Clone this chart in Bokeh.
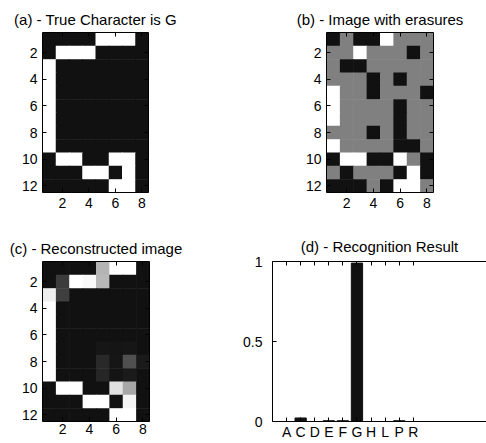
from bokeh.plotting import figure
from bokeh.models import (LinearColorMapper, FixedTicker, LinearAxis, Range1d,
                          ColumnDataSource, CustomLabelingPolicy)
from bokeh.layouts import column, row
from bokeh.embed import file_html
from bokeh.resources import INLINE
from bokeh.transform import transform

# ---------------- data ----------------
# (a) true character "G": 1 = white pixel, 0 = black pixel
TRUE_G = [
    [0, 0, 0, 0, 1, 1, 1, 0],
    [0, 1, 1, 1, 0, 0, 0, 0],
    [1, 0, 0, 0, 0, 0, 0, 0],
    [1, 0, 0, 0, 0, 0, 0, 0],
    [1, 0, 0, 0, 0, 0, 0, 0],
    [1, 0, 0, 0, 0, 0, 0, 0],
    [1, 0, 0, 0, 0, 0, 0, 0],
    [1, 0, 0, 0, 0, 0, 0, 0],
    [1, 0, 0, 0, 0, 0, 0, 0],
    [0, 1, 1, 0, 0, 1, 1, 0],
    [0, 0, 0, 1, 1, 0, 1, 0],
    [0, 0, 0, 0, 0, 1, 1, 0],
]

# (b) image with erasures: -1 black, 0 erased (gray), 1 white
ERASED = [
    [-1, 0, -1, -1, 1, 0, 0, 0],
    [0, 0, 1, 0, 0, 0, -1, 0],
    [0, -1, -1, 0, 0, 0, 0, 0],
    [0, 0, 0, -1, 0, -1, 0, 0],
    [1, 0, 0, -1, 0, 0, 0, -1],
    [1, 0, 0, 0, 0, -1, 0, 0],
    [1, 0, 0, 0, 0, -1, 0, 0],
    [0, 0, 0, -1, 0, -1, 0, 0],
    [1, 0, 0, 0, 0, -1, -1, 0],
    [-1, 1, 1, -1, -1, 1, 0, -1],
    [0, -1, 0, 0, 0, -1, 1, -1],
    [-1, -1, -1, 0, -1, 1, 1, 0],
]

# (c) reconstructed image, values in [-1, 1]
RECON = [
    [-1, -1, -1, -1, 0.41, 1, 1, -1],
    [-1, -0.61, 1, 0.95, 0.44, -1, -1, -1],
    [0.87, -0.58, -1, -1, -1, -1, -1, -1],
    [1, -1, -1, -1, -1, -1, -1, -1],
    [1, -1, -1, -1, -1, -1, -1, -1],
    [1, -1, -1, -1, -1, -1, -1, -1],
    [1, -1, -1, -1, -0.95, -0.96, -0.95, -1],
    [1, -1, -1, -1, -0.78, -0.95, -0.43, -0.92],
    [1, -1, -1, -1, -0.81, -0.97, -0.92, -1],
    [-1, 1, 1, -1, -1, 0.76, 0.31, -1],
    [-1, -1, -1, 1, 1, -1, 0.91, -1],
    [-1, -1, -1, -1, -1, 1, 1, -1],
]

# (d) recognition result
LETTERS = ["A", "C", "D", "E", "F", "G", "H", "L", "P", "R"]
SCORES = [0.0, 0.022, 0.0, 0.005, 0.005, 0.99, 0.0, 0.0, 0.005, 0.0]

IMG_XTICKS = [2, 4, 6, 8]
IMG_YTICKS = [2, 4, 6, 8, 10, 12]
RES_YTICKS = [0, 0.5, 1]

# ---------------- style ----------------
FONT = "Liberation Sans"
TICK_SIZE = "14px"
TITLE_SIZE = "15px"


def _gray(t):
    if t < 0.5:
        g = 17 + (128 - 17) * (t * 2)
    else:
        g = 128 + (255 - 128) * (t * 2 - 1)
    g = int(round(g))
    return "#%02x%02x%02x" % (g, g, g)


GRAY = [_gray(i / 255) for i in range(256)]
mapper = LinearColorMapper(palette=GRAY, low=-1, high=1)


def style_axis(ax, ticks, show_labels=True, standoff=5, overrides=None):
    ax.ticker = FixedTicker(ticks=ticks)
    ax.axis_line_color = "black"
    ax.axis_line_width = 1
    ax.major_tick_in = 4
    ax.major_tick_out = 0
    ax.major_tick_line_color = "black"
    ax.minor_tick_line_color = None
    ax.major_label_text_font = FONT
    ax.major_label_text_color = "black"
    if show_labels:
        ax.major_label_text_font_size = TICK_SIZE
        ax.major_label_standoff = standoff
    else:
        # mirrored box ticks only: draw no labels at all
        ax.major_label_policy = CustomLabelingPolicy(code="return []")
        ax.major_label_text_font_size = "0px"
        ax.major_label_standoff = 0
    if overrides:
        ax.major_label_overrides = overrides


def style_title(p, text, offset, standoff):
    p.title.text = text
    p.title.text_font = FONT
    p.title.text_font_size = TITLE_SIZE
    p.title.text_font_style = "normal"
    p.title.text_color = "black"
    p.title.align = "center"
    p.title.offset = offset
    p.title.standoff = standoff


def image_panel(text, grid, width, height, borders, title_offset, title_standoff, xstand):
    left, right, top, bottom = borders
    p = figure(width=width, height=height,
               x_range=Range1d(0.5, 8.5), y_range=Range1d(12.5, 0.5),
               output_backend="svg", toolbar_location=None, tools="",
               min_border_left=left, min_border_right=right,
               min_border_top=top, min_border_bottom=bottom,
               background_fill_color="white", border_fill_color="white")
    p.outline_line_color = None
    p.grid.visible = False
    xs, ys, vs = [], [], []
    for r, rowvals in enumerate(grid):
        for c, v in enumerate(rowvals):
            xs.append(c + 1)
            ys.append(r + 1)
            vs.append(v)
    src = ColumnDataSource(dict(x=xs, y=ys, v=vs))
    p.rect(x="x", y="y", width=1, height=1, source=src,
           fill_color=transform("v", mapper), line_color=None, dilate=True)
    style_axis(p.xaxis[0], IMG_XTICKS, standoff=xstand)
    style_axis(p.yaxis[0], IMG_YTICKS, standoff=5)
    top_ax = LinearAxis()
    style_axis(top_ax, IMG_XTICKS, show_labels=False)
    p.add_layout(top_ax, "above")
    right_ax = LinearAxis()
    style_axis(right_ax, IMG_YTICKS, show_labels=False)
    p.add_layout(right_ax, "right")
    style_title(p, text, title_offset, title_standoff)
    return p


truth_vals = [[1 if v else -1 for v in r] for r in TRUE_G]

# page grid: 486 x 443, split at x=240 and y=225
pa = image_panel("(a) - True Character is G", truth_vals, 240, 225,
                 (42, 92, 32, 33), -1, 9, 5)
pb = image_panel("(b) - Image with erasures", ERASED, 246, 225,
                 (86, 53, 32, 33), -2, 9, 5)
pc = image_panel("(c) - Reconstructed image", RECON, 240, 218,
                 (42, 91, 36, 22), -2, 9, 2)

# (d) bar chart
xpos = list(range(1, len(LETTERS) + 1))
pd_ = figure(width=246, height=218,
             x_range=Range1d(0, 15.2), y_range=Range1d(0, 1),
             output_backend="svg", toolbar_location=None, tools="",
             min_border_left=32, min_border_right=0,
             min_border_top=36, min_border_bottom=22,
             background_fill_color="white", border_fill_color="white")
pd_.outline_line_color = None
pd_.grid.visible = False
bsrc = ColumnDataSource(dict(x=xpos, top=SCORES, letter=LETTERS))
pd_.vbar(x="x", top="top", width=0.8, source=bsrc,
         fill_color="#111111", line_color="#111111")
style_axis(pd_.xaxis[0], xpos, standoff=2,
           overrides={i: l for i, l in zip(xpos, LETTERS)})
style_axis(pd_.yaxis[0], RES_YTICKS, standoff=10,
           overrides={0: "0", 0.5: "0.5", 1: "1"})
top_d = LinearAxis()
style_axis(top_d, xpos, show_labels=False)
pd_.add_layout(top_d, "above")
style_title(pd_, "(d) - Recognition Result", 0, 13)

layout = column(row(pa, pb), row(pc, pd_))

with open("out.html", "w") as f:
    f.write(file_html(layout, INLINE))
